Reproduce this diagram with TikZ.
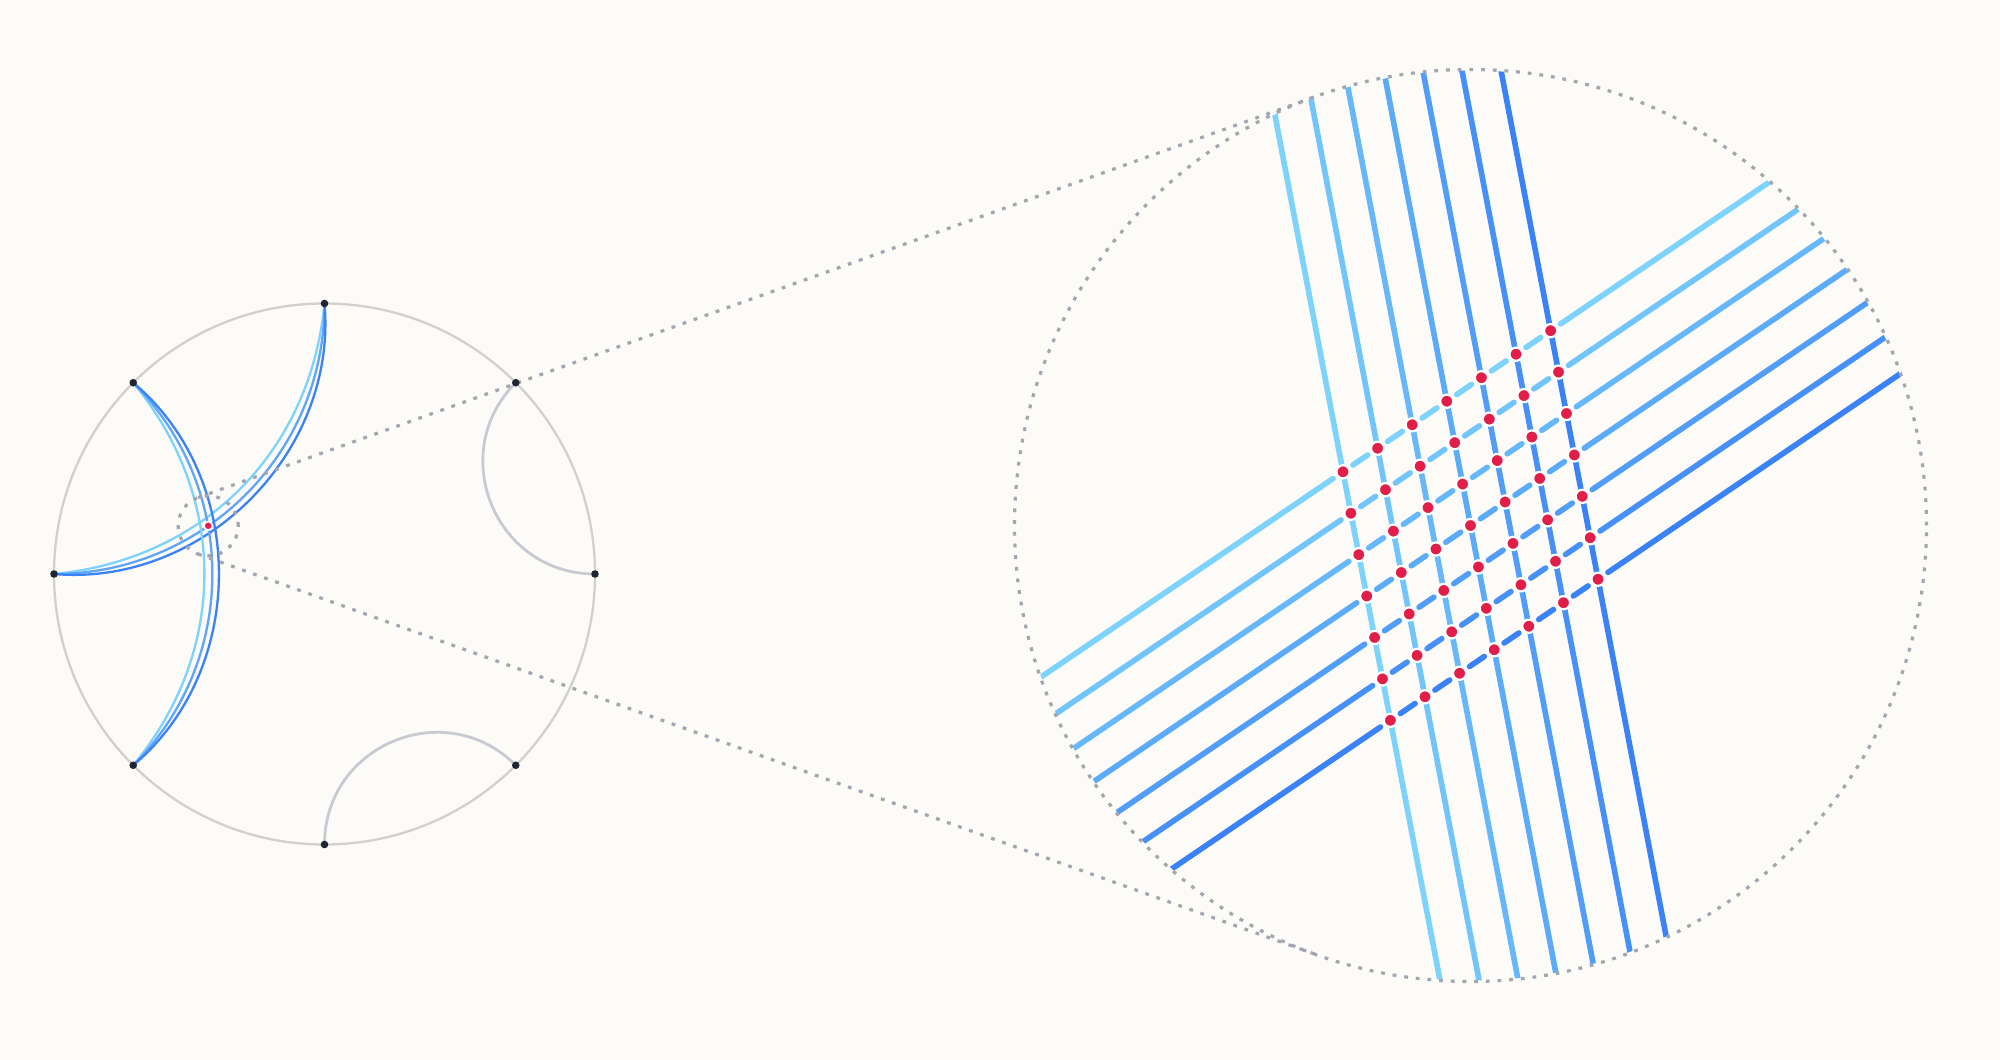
\documentclass[tikz,border=0pt]{standalone}
\usetikzlibrary{calc}
\definecolor{bgc}{HTML}{FCFBF8}
\definecolor{rimc}{HTML}{D2D0CA}
\definecolor{geoc}{HTML}{C8CAD2}
\definecolor{nodec}{HTML}{1F2633}
\definecolor{bluelt}{HTML}{7DD3FC}
\definecolor{bluemd}{HTML}{60A5FA}
\definecolor{bluedk}{HTML}{3B82F6}
\definecolor{redc}{HTML}{E11D48}
\definecolor{dotc}{HTML}{A3A6B0}
\begin{document}
\begin{tikzpicture}[x=1pt,y=1pt,
  rim/.style={draw=rimc,line width=2.3pt},
  geo/.style={draw=geoc,line width=2.8pt},
  arcline/.style={line width=2.3pt},
  lens/.style={draw=dotc,line width=3.2pt,dash pattern=on 3.8pt off 7.9pt},
  vertex/.style={circle,fill=nodec,inner sep=0pt,minimum size=7.6pt},
  hit/.style={circle,fill=redc,draw=white,line width=1.5pt,inner sep=0pt,minimum size=8.4pt},
  bighit/.style={circle,fill=redc,draw=white,line width=2.2pt,inner sep=0pt,minimum size=13.2pt},
  gridline/.style={line width=5.6pt}]
\fill[bgc] (0,0) rectangle (2000,1060);
% left disk
\coordinate (c0) at (324.5,486);
\foreach \a in {0,45,...,315}{\coordinate (n\a) at ($(c0)+(\a:270.5)$);}
\draw[rim] (c0) circle[radius=270.5];
\draw[geo] (n45) to[out=225,in=180,looseness=1.232] (n0);
\draw[geo] (n270) to[out=90,in=135,looseness=1.232] (n315);
\draw[arcline,bluelt] (n90) to[bend left=39.5] (n180);
\draw[arcline,bluemd] (n90) to[bend left=45] (n180);
\draw[arcline,bluedk] (n90) to[bend left=50] (n180);
\draw[arcline,bluelt] (n135) to[bend left=39.5] (n225);
\draw[arcline,bluemd] (n135) to[bend left=45] (n225);
\draw[arcline,bluedk] (n135) to[bend left=50] (n225);
% lens
\coordinate (s0) at (208.2,534.2);
\coordinate (b0) at (1470.5,534.5);
\coordinate (tu1) at (198.08,562.44);
\coordinate (tu2) at (1316.61,963.75);
\coordinate (tl1) at (198.08,505.96);
\coordinate (tl2) at (1316.61,105.25);
\draw[lens] (s0) circle[radius=30];
\draw[lens] (tu1) -- (tu2);
\draw[lens] (tl1) -- (tl2);
\foreach \a in {0,45,...,315}{\node[vertex] (v\a) at (n\a) {};}
\node[hit] (x0) at (s0) {};
% magnified grid
\foreach \i in {1,...,7}{
  \foreach \j in {1,...,7}{
    \coordinate (p-\i-\j) at ($(b0)+({(\i-4)*34.61+(\j-4)*7.90},{(\i-4)*23.52-(\j-4)*41.42})$);
  }
  \coordinate (at-\i) at ($(b0)+({(\i-4)*34.61-112.4},{(\i-4)*23.52+589.4})$);
  \coordinate (ab-\i) at ($(b0)+({(\i-4)*34.61+112.4},{(\i-4)*23.52-589.4})$);
  \coordinate (bl-\i) at ($(b0)+({(\i-4)*7.90-496.3},{-(\i-4)*41.42-337.3})$);
  \coordinate (br-\i) at ($(b0)+({(\i-4)*7.90+496.3},{-(\i-4)*41.42+337.3})$);
}
\begin{scope}
  \clip (b0) circle[radius=455];
  \foreach \j in {1,...,7}{
    \pgfmathtruncatemacro\mixp{round((\j-1)*100/6)}
    \draw[gridline,line cap=round,bluedk!\mixp!bluelt,shorten >=12pt] (bl-\j) -- (p-1-\j);
    \foreach \i [evaluate=\i as \k using int(\i+1)] in {1,...,6}{
      \draw[gridline,line cap=round,bluedk!\mixp!bluelt,shorten <=12pt,shorten >=12pt] (p-\i-\j) -- (p-\k-\j);
    }
    \draw[gridline,line cap=round,bluedk!\mixp!bluelt,shorten <=12pt] (p-7-\j) -- (br-\j);
  }
  \foreach \i in {1,...,7}{
    \pgfmathtruncatemacro\mixp{round((\i-1)*100/6)}
    \draw[gridline,bluedk!\mixp!bluelt] (at-\i) -- (ab-\i);
  }
  \foreach \i in {1,...,7}{\foreach \j in {1,...,7}{\node[bighit] (h-\i-\j) at (p-\i-\j) {};}}
\end{scope}
\draw[lens] (b0) circle[radius=456];
\end{tikzpicture}
\end{document}
